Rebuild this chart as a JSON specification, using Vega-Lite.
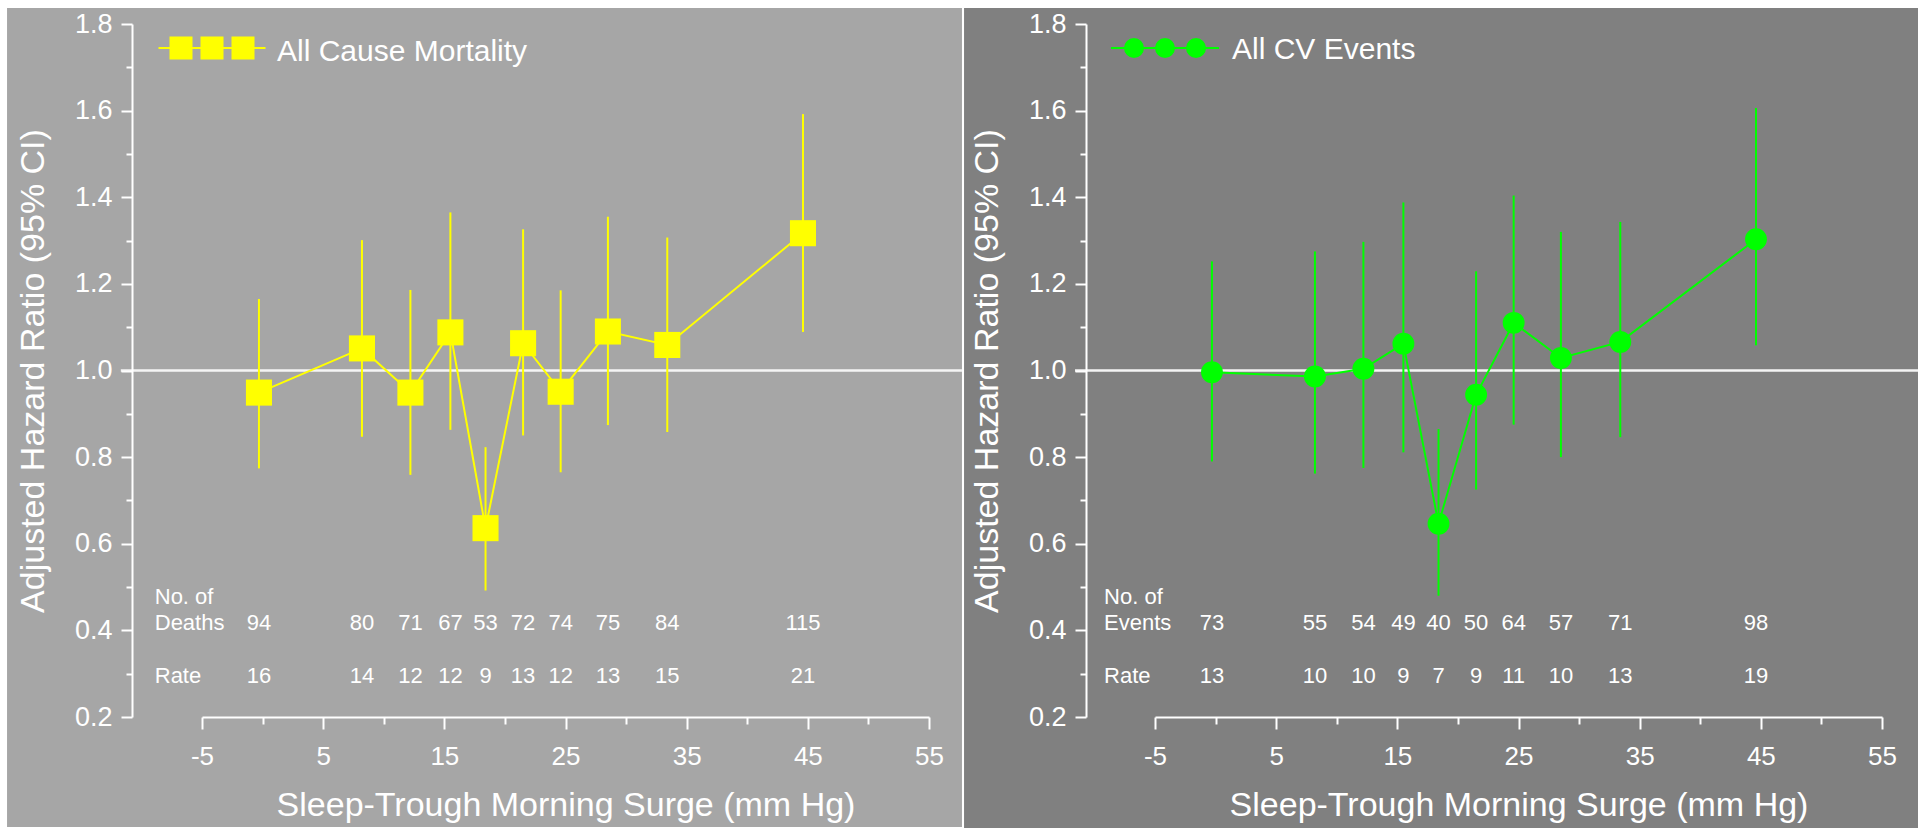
{
  "$schema": "https://vega.github.io/schema/vega-lite/v6.json",
  "background": "#ffffff",
  "padding": {"left": 7, "top": 7, "right": 0, "bottom": 0},
  "autosize": {"type": "pad"},
  "spacing": 0,
  "bounds": "full",
  "resolve": {"scale": {"x": "independent", "y": "independent", "color": "independent"}, "legend": {"color": "independent"}},
  "config": {
    "view": {"stroke": null},
    "font": "Liberation Sans",
    "axis": {"domainColor": "#ffffff", "domainWidth": 2, "tickColor": "#ffffff", "tickWidth": 2, "labelColor": "#ffffff", "titleColor": "#ffffff", "titleFontWeight": "normal", "grid": false, "labelFont": "Liberation Sans", "titleFont": "Liberation Sans", "labelFlush": false, "labelOverlap": false},
    "legend": {"padding": 0, "labelColor": "#ffffff", "labelFontSize": 30, "labelFont": "Liberation Sans", "labelOffset": 52, "labelLimit": 500, "symbolOpacity": 1}
  },
  "hconcat": [
    {
      "width": 727, "height": 693,
      "data": {"values": [
        {"series": "All Cause Mortality", "x": -0.3, "hr": 0.949, "lo": 0.774, "hi": 1.165, "n": 94, "rate": 16},
        {"series": "All Cause Mortality", "x": 8.2, "hr": 1.051, "lo": 0.847, "hi": 1.301, "n": 80, "rate": 14},
        {"series": "All Cause Mortality", "x": 12.2, "hr": 0.949, "lo": 0.759, "hi": 1.186, "n": 71, "rate": 12},
        {"series": "All Cause Mortality", "x": 15.5, "hr": 1.088, "lo": 0.863, "hi": 1.365, "n": 67, "rate": 12},
        {"series": "All Cause Mortality", "x": 18.4, "hr": 0.636, "lo": 0.492, "hi": 0.823, "n": 53, "rate": 9},
        {"series": "All Cause Mortality", "x": 21.5, "hr": 1.063, "lo": 0.850, "hi": 1.326, "n": 72, "rate": 13},
        {"series": "All Cause Mortality", "x": 24.6, "hr": 0.951, "lo": 0.765, "hi": 1.185, "n": 74, "rate": 12},
        {"series": "All Cause Mortality", "x": 28.5, "hr": 1.090, "lo": 0.874, "hi": 1.355, "n": 75, "rate": 13},
        {"series": "All Cause Mortality", "x": 33.4, "hr": 1.059, "lo": 0.858, "hi": 1.307, "n": 84, "rate": 15},
        {"series": "All Cause Mortality", "x": 44.6, "hr": 1.317, "lo": 1.089, "hi": 1.592, "n": 115, "rate": 21}
      ]},
      "layer": [
        {"data": {"values": [{}]}, "mark": {"type": "rect", "color": "#a6a6a6"},
         "encoding": {"x": {"datum": -21.09, "type": "quantitative"}, "x2": {"datum": 57.72}, "y": {"datum": -0.054, "type": "quantitative"}, "y2": {"datum": 1.837}}},
        {"data": {"values": [{}]}, "mark": {"type": "rule", "color": "#f4f4f4", "strokeWidth": 2.5},
         "encoding": {"x": {"datum": -11.7, "type": "quantitative"}, "x2": {"datum": 57.72}, "y": {"datum": 1, "type": "quantitative"}}},
        {"mark": {"type": "rule", "color": "#ffff00", "strokeWidth": 2},
         "encoding": {
           "x": {"field": "x", "type": "quantitative", "scale": {"domain": [-5, 55], "nice": false, "zero": false},
                 "axis": {"zindex": 2, "title": "Sleep-Trough Morning Surge (mm Hg)", "values": [-5, 0, 5, 10, 15, 20, 25, 30, 35, 40, 45, 50, 55],
                          "labelExpr": "datum.value % 10 === 0 ? '' : toString(datum.value)",
                          "tickSize": {"condition": {"test": "datum.value % 10 === 0", "value": 7}, "value": 12},
                          "labelFontSize": 26, "labelPadding": 14, "titleFontSize": 34, "titlePadding": 19}},
           "y": {"field": "lo", "type": "quantitative", "scale": {"domain": [0.2, 1.8], "nice": false, "zero": false},
                 "axis": {"zindex": 2, "title": "Adjusted Hazard Ratio (95% CI)", "values": [0.2, 0.3, 0.4, 0.5, 0.6, 0.7, 0.8, 0.9, 1.0, 1.1, 1.2, 1.3, 1.4, 1.5, 1.6, 1.7, 1.8],
                          "format": ".1f",
                          "labelExpr": "round(datum.value * 10) % 2 === 1 ? '' : datum.label",
                          "tickSize": {"condition": {"test": "round(datum.value * 10) % 2 === 1", "value": 6}, "value": 11},
                          "offset": 70, "labelFontSize": 27, "labelPadding": 9, "titleFontSize": 34, "titlePadding": 24}},
           "y2": {"field": "hi"}}},
        {"mark": {"type": "line", "color": "#ffff00", "strokeWidth": 2},
         "encoding": {"x": {"field": "x", "type": "quantitative"}, "y": {"field": "hr", "type": "quantitative"}}},
        {"mark": {"type": "point", "shape": "square", "filled": true, "size": 680, "opacity": 1},
         "encoding": {"x": {"field": "x", "type": "quantitative"}, "y": {"field": "hr", "type": "quantitative"},
           "color": {"field": "series", "type": "nominal", "scale": {"range": ["#ffff00"]},
             "legend": {"zindex": 2, "title": null, "orient": "none", "legendX": -5, "legendY": 9,
               "symbolType": "M-5.35,0H5.35M-4.15,-1.05H-2.05V1.05H-4.15ZM-1.05,-1.05H1.05V1.05H-1.05ZM2.05,-1.05H4.15V1.05H2.05Z",
               "symbolSize": 400, "symbolStrokeColor": "#ffff00", "symbolFillColor": "#ffff00", "symbolStrokeWidth": 2,
               "labelOffset": 50,
               "encode": {"labels": {"update": {"dy": {"value": 4}}}}}}}},
        {"mark": {"type": "text", "color": "#ffffff", "fontSize": 22},
         "encoding": {"x": {"field": "x", "type": "quantitative"}, "y": {"datum": 0.416, "type": "quantitative"}, "text": {"field": "n"}}},
        {"mark": {"type": "text", "color": "#ffffff", "fontSize": 22},
         "encoding": {"x": {"field": "x", "type": "quantitative"}, "y": {"datum": 0.294, "type": "quantitative"}, "text": {"field": "rate"}}},
        {"data": {"values": [{}]}, "mark": {"type": "text", "text": "No. of", "align": "left", "color": "#ffffff", "fontSize": 22},
         "encoding": {"x": {"datum": -8.9, "type": "quantitative"}, "y": {"datum": 0.476, "type": "quantitative"}}},
        {"data": {"values": [{}]}, "mark": {"type": "text", "text": "Deaths", "align": "left", "color": "#ffffff", "fontSize": 22},
         "encoding": {"x": {"datum": -8.9, "type": "quantitative"}, "y": {"datum": 0.416, "type": "quantitative"}}},
        {"data": {"values": [{}]}, "mark": {"type": "text", "text": "Rate", "align": "left", "color": "#ffffff", "fontSize": 22},
         "encoding": {"x": {"datum": -8.9, "type": "quantitative"}, "y": {"datum": 0.294, "type": "quantitative"}}}
      ]
    },
    {
      "width": 727, "height": 693,
      "data": {"values": [
        {"series": "All CV Events", "x": -0.3, "hr": 0.996, "lo": 0.790, "hi": 1.252, "n": 73, "rate": 13},
        {"series": "All CV Events", "x": 8.2, "hr": 0.986, "lo": 0.762, "hi": 1.275, "n": 55, "rate": 10},
        {"series": "All CV Events", "x": 12.2, "hr": 1.004, "lo": 0.775, "hi": 1.297, "n": 54, "rate": 10},
        {"series": "All CV Events", "x": 15.5, "hr": 1.062, "lo": 0.811, "hi": 1.388, "n": 49, "rate": 9},
        {"series": "All CV Events", "x": 18.4, "hr": 0.646, "lo": 0.480, "hi": 0.865, "n": 40, "rate": 7},
        {"series": "All CV Events", "x": 21.5, "hr": 0.944, "lo": 0.725, "hi": 1.229, "n": 50, "rate": 9},
        {"series": "All CV Events", "x": 24.6, "hr": 1.110, "lo": 0.875, "hi": 1.404, "n": 64, "rate": 11},
        {"series": "All CV Events", "x": 28.5, "hr": 1.029, "lo": 0.800, "hi": 1.320, "n": 57, "rate": 10},
        {"series": "All CV Events", "x": 33.4, "hr": 1.066, "lo": 0.846, "hi": 1.343, "n": 71, "rate": 13},
        {"series": "All CV Events", "x": 44.6, "hr": 1.303, "lo": 1.058, "hi": 1.606, "n": 98, "rate": 19}
      ]},
      "layer": [
        {"data": {"values": [{}]}, "mark": {"type": "rect", "color": "#808080"},
         "encoding": {"x": {"datum": -20.76, "type": "quantitative"}, "x2": {"datum": 58.14}, "y": {"datum": -0.0586, "type": "quantitative"}, "y2": {"datum": 1.837}}},
        {"data": {"values": [{}]}, "mark": {"type": "rule", "color": "#f4f4f4", "strokeWidth": 2.5},
         "encoding": {"x": {"datum": -11.6, "type": "quantitative"}, "x2": {"datum": 58.14}, "y": {"datum": 1, "type": "quantitative"}}},
        {"mark": {"type": "rule", "color": "#00ff00", "strokeWidth": 2},
         "encoding": {
           "x": {"field": "x", "type": "quantitative", "scale": {"domain": [-5, 55], "nice": false, "zero": false},
                 "axis": {"zindex": 2, "title": "Sleep-Trough Morning Surge (mm Hg)", "values": [-5, 0, 5, 10, 15, 20, 25, 30, 35, 40, 45, 50, 55],
                          "labelExpr": "datum.value % 10 === 0 ? '' : toString(datum.value)",
                          "tickSize": {"condition": {"test": "datum.value % 10 === 0", "value": 7}, "value": 12},
                          "labelFontSize": 26, "labelPadding": 14, "titleFontSize": 34, "titlePadding": 19}},
           "y": {"field": "lo", "type": "quantitative", "scale": {"domain": [0.2, 1.8], "nice": false, "zero": false},
                 "axis": {"zindex": 2, "title": "Adjusted Hazard Ratio (95% CI)", "values": [0.2, 0.3, 0.4, 0.5, 0.6, 0.7, 0.8, 0.9, 1.0, 1.1, 1.2, 1.3, 1.4, 1.5, 1.6, 1.7, 1.8],
                          "format": ".1f",
                          "labelExpr": "round(datum.value * 10) % 2 === 1 ? '' : datum.label",
                          "tickSize": {"condition": {"test": "round(datum.value * 10) % 2 === 1", "value": 6}, "value": 11},
                          "offset": 69, "labelFontSize": 27, "labelPadding": 9, "titleFontSize": 34, "titlePadding": 24}},
           "y2": {"field": "hi"}}},
        {"mark": {"type": "line", "color": "#00ff00", "strokeWidth": 2},
         "encoding": {"x": {"field": "x", "type": "quantitative"}, "y": {"field": "hr", "type": "quantitative"}}},
        {"mark": {"type": "point", "shape": "circle", "filled": true, "size": 480, "opacity": 1},
         "encoding": {"x": {"field": "x", "type": "quantitative"}, "y": {"field": "hr", "type": "quantitative"},
           "color": {"field": "series", "type": "nominal", "scale": {"range": ["#00ff00"]},
             "legend": {"zindex": 2, "title": null, "orient": "none", "legendX": -5, "legendY": 9,
               "symbolType": "M-5.4,0H5.4M-4,0A0.9,0.9 0 1,1 -2.2,0A0.9,0.9 0 1,1 -4,0ZM-0.9,0A0.9,0.9 0 1,1 0.9,0A0.9,0.9 0 1,1 -0.9,0ZM2.2,0A0.9,0.9 0 1,1 4,0A0.9,0.9 0 1,1 2.2,0Z",
               "symbolSize": 400, "symbolStrokeColor": "#00ff00", "symbolFillColor": "#00ff00", "symbolStrokeWidth": 2,
               "labelOffset": 52,
               "encode": {"labels": {"update": {"dy": {"value": 2}}}}}}}},
        {"mark": {"type": "text", "color": "#ffffff", "fontSize": 22},
         "encoding": {"x": {"field": "x", "type": "quantitative"}, "y": {"datum": 0.416, "type": "quantitative"}, "text": {"field": "n"}}},
        {"mark": {"type": "text", "color": "#ffffff", "fontSize": 22},
         "encoding": {"x": {"field": "x", "type": "quantitative"}, "y": {"datum": 0.294, "type": "quantitative"}, "text": {"field": "rate"}}},
        {"data": {"values": [{}]}, "mark": {"type": "text", "text": "No. of", "align": "left", "color": "#ffffff", "fontSize": 22},
         "encoding": {"x": {"datum": -9.2, "type": "quantitative"}, "y": {"datum": 0.476, "type": "quantitative"}}},
        {"data": {"values": [{}]}, "mark": {"type": "text", "text": "Events", "align": "left", "color": "#ffffff", "fontSize": 22},
         "encoding": {"x": {"datum": -9.2, "type": "quantitative"}, "y": {"datum": 0.416, "type": "quantitative"}}},
        {"data": {"values": [{}]}, "mark": {"type": "text", "text": "Rate", "align": "left", "color": "#ffffff", "fontSize": 22},
         "encoding": {"x": {"datum": -9.2, "type": "quantitative"}, "y": {"datum": 0.294, "type": "quantitative"}}}
      ]
    }
  ]
}
